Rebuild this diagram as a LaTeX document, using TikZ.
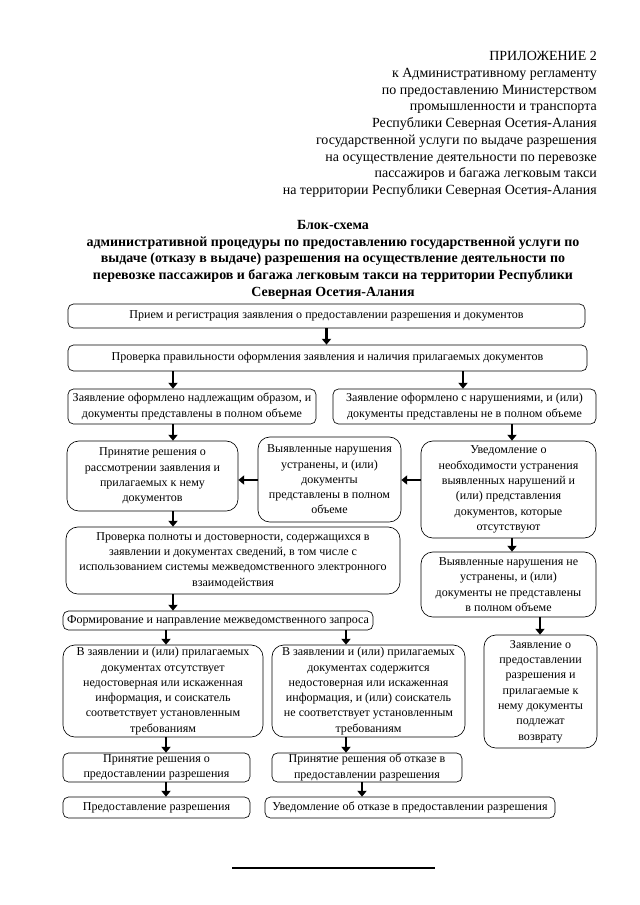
\documentclass[tikz,border=0pt]{standalone}
\usepackage{fontspec}
\setmainfont{Liberation Serif}
\usetikzlibrary{arrows.meta,positioning,calc}

\begin{document}
\begin{tikzpicture}[x=0.93pt,y=-0.93pt]

  \def\px{0.93pt}
  \tikzstyle{blk}=[draw=black, text=black, fill=white, line width=0.6pt, rounded corners=5pt, align=center, inner sep=0pt, font=\fontsize{11.2}{14.2}\selectfont]
  \tikzstyle{rblk}=[blk, rounded corners=11pt]
  \tikzstyle{arr}=[draw=black, line width=2.6pt, -{Triangle[length=5.5pt,width=8.5pt]}]
  \tikzstyle{hdr}=[font=\fontsize{13}{15.6}\selectfont, align=right, anchor=north east, inner sep=0pt]
  \tikzstyle{ttl}=[font=\bfseries\fontsize{13}{15.5}\selectfont, align=center, anchor=north, inner sep=0pt]
  \tikzset{sz/.style 2 args={minimum width=#1*\px, minimum height=#2*\px}}

  \useasboundingbox (0,0) rectangle (640,905);

  % header and title
  \node [hdr] (hdr) at (597,51) {ПРИЛОЖЕНИЕ 2\\к Административному регламенту\\по предоставлению Министерством\\промышленности и транспорта\\Республики Северная Осетия-Алания\\государственной услуги по выдаче разрешения\\на осуществление деятельности по перевозке\\пассажиров и багажа легковым такси\\на территории Республики Северная Осетия-Алания};
  \node [ttl] (ttl) at (333,220) {Блок-схема\\административной процедуры по предоставлению государственной услуги по\\выдаче (отказу в выдаче) разрешения на осуществление деятельности по\\перевозке пассажиров и багажа легковым такси на территории Республики\\Северная Осетия-Алания};

  % boxes
  \node [blk,sz={517}{24}] (b1) at (326.5,316) {Прием и регистрация заявления о предоставлении разрешения и документов};
  \node [blk,sz={519}{26}] (b2) at (327.5,358) {Проверка правильности оформления заявления и наличия прилагаемых документов};
  \node [blk,sz={248}{35}] (b3a) at (192,406.5) {Заявление оформлено надлежащим образом, и\\документы представлены в полном объеме};
  \node [blk,sz={263}{35}] (b3b) at (464.5,406.5) {Заявление оформлено с нарушениями, и (или)\\документы представлены не в полном объеме};
  \node [rblk,sz={171}{70}] (b4a) at (152.5,476) {Принятие решения о\\рассмотрении заявления и\\прилагаемых к нему\\документов};
  \node [rblk,sz={143}{85}] (b4b) at (329.5,479.5) {Выявленные нарушения\\устранены, и (или)\\документы\\представлены в полном\\объеме};
  \node [rblk,sz={175}{97}] (b4c) at (508.5,489.5) {Уведомление о\\необходимости устранения\\выявленных нарушений и\\(или) представления\\документов, которые\\отсутствуют};
  \node [rblk,sz={334}{67}] (b5a) at (233,560.5) {Проверка полноты и достоверности, содержащихся в\\заявлении и документах сведений, в том числе с\\использованием системы межведомственного электронного\\взаимодействия};
  \node [rblk,sz={175}{65}] (b5c) at (508.5,584.5) {Выявленные нарушения не\\устранены, и (или)\\документы не представлены\\в полном объеме};
  \node [blk,sz={310}{19}] (b6) at (218,620.5) {Формирование и направление межведомственного запроса};
  \node [rblk,sz={113}{113}] (b6c) at (540.5,691.5) {Заявление о\\предоставлении\\разрешения и\\прилагаемые к\\нему документы\\подлежат\\возврату};
  \node [rblk,sz={200}{92}] (b7a) at (163,691) {В заявлении и (или) прилагаемых\\документах отсутствует\\недостоверная или искаженная\\информация, и соискатель\\соответствует установленным\\требованиям};
  \node [rblk,sz={193}{92}] (b7b) at (368.5,691) {В заявлении и (или) прилагаемых\\документах содержится\\недостоверная или искаженная\\информация, и (или) соискатель\\не соответствует установленным\\требованиям};
  \node [blk,sz={187}{29}] (b8a) at (156.5,767.5) {Принятие решения о\\предоставлении разрешения};
  \node [blk,sz={190}{29}] (b8b) at (367,767.5) {Принятие решения об отказе в\\предоставлении разрешения};
  \node [blk,sz={187}{21}] (b9a) at (156.5,807.5) {Предоставление разрешения};
  \node [blk,sz={290}{21}] (b9b) at (410,807.5) {Уведомление об отказе в предоставлении разрешения};

  % arrow columns
  \coordinate (colA) at (173,0);
  \coordinate (colB) at (463,0);
  \coordinate (colC) at (512,0);
  \coordinate (colD) at (540,0);
  \coordinate (colE) at (166,0);
  \coordinate (colF) at (346,0);
  \coordinate (colG) at (362,0);
  \coordinate (rowH) at (0,480);

  \draw [arr] (b1.south) -- (b1.south |- b2.north);
  \draw [arr] (b2.south -| colA) -- (b3a.north -| colA);
  \draw [arr] (b2.south -| colB) -- (b3b.north -| colB);
  \draw [arr] (b3a.south -| colA) -- (b4a.north -| colA);
  \draw [arr] (b3b.south -| colC) -- (b4c.north -| colC);
  \draw [arr] (b4c.west |- rowH) -- (b4b.east |- rowH);
  \draw [arr] (b4b.west |- rowH) -- (b4a.east |- rowH);
  \draw [arr] (b4a.south -| colA) -- (b5a.north -| colA);
  \draw [arr] (b4c.south -| colC) -- (b5c.north -| colC);
  \draw [arr] (b5c.south -| colD) -- (b6c.north -| colD);
  \draw [arr] (b5a.south -| colA) -- (b6.north -| colA);
  \draw [arr] (b6.south -| colE) -- (b7a.north -| colE);
  \draw [arr] (b6.south -| colF) -- (b7b.north -| colF);
  \draw [arr] (b7a.south -| colE) -- (b8a.north -| colE);
  \draw [arr] (b7b.south -| colF) -- (b8b.north -| colF);
  \draw [arr] (b8a.south -| colE) -- (b9a.north -| colE);
  \draw [arr] (b8b.south -| colG) -- (b9b.north -| colG);

  % footnote rule
  \draw [line width=1pt] (232,868) -- (435,868);
\end{tikzpicture}
\end{document}
